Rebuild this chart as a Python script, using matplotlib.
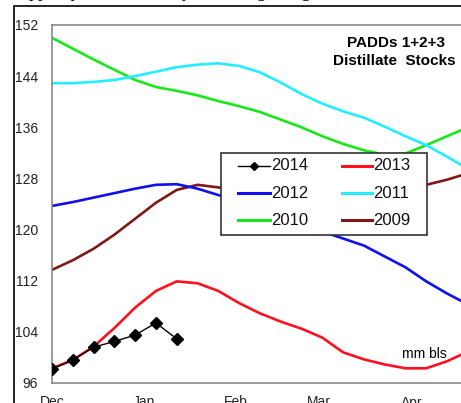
import matplotlib
matplotlib.use("Agg")
import matplotlib.pyplot as plt
from matplotlib.patches import Rectangle
from matplotlib.lines import Line2D

plt.rcParams['font.family'] = ['Liberation Sans', 'DejaVu Sans']

W, H = 461, 403

# days after Dec 1 (weekly)
days = [0, 7, 14, 21, 28, 35, 42, 49, 56, 63, 70, 77, 84, 91, 98, 105, 112, 119, 126, 133, 140]
s2013 = [98.3, 99.6, 101.7, 104.6, 107.8, 110.4, 111.9, 111.6, 110.4, 108.5, 106.9, 105.6, 104.5, 103.1, 100.8, 99.7, 98.9, 98.3, 98.3, 99.4, 100.9]
s2012 = [123.7, 124.3, 125.0, 125.7, 126.4, 127.0, 127.1, 126.4, 125.4, 124.6, 123.6, 122.5, 121.2, 119.7, 118.6, 117.5, 115.8, 114.1, 111.9, 110.0, 108.3]
s2011 = [142.9, 142.9, 143.1, 143.4, 144.0, 144.7, 145.4, 145.8, 146.0, 145.6, 144.6, 143.0, 141.2, 139.7, 138.5, 137.5, 136.1, 134.6, 133.2, 131.4, 129.5]
s2010 = [150.0, 148.3, 146.6, 145.0, 143.4, 142.3, 141.7, 141.0, 140.1, 139.3, 138.4, 137.2, 136.0, 134.6, 133.4, 132.4, 131.7, 131.9, 133.2, 134.6, 136.0]
s2009 = [113.7, 115.2, 117.0, 119.2, 121.7, 124.2, 126.2, 127.0, 126.6, 126.0, 125.6, 125.4, 125.5, 125.8, 126.2, 126.5, 126.8, 126.9, 127.0, 127.8, 128.8]
days2014 = [0, 7, 14, 21, 28, 35, 42]
s2014 = [98.2, 99.6, 101.6, 102.5, 103.5, 105.4, 102.9]

years = ["2014", "2013", "2012", "2011", "2010", "2009"]
colors = {"2014": "black", "2013": "#ff1020", "2012": "#1010ee",
          "2011": "#22eeff", "2010": "#18e818", "2009": "#801818"}

month_ticks = [0, 31, 62, 90, 121]
month_labels = ["Dec", "Jan", "Feb", "Mar", "Apr"]
y_ticks = [96, 104, 112, 120, 128, 136, 144, 152]

def fx(px):
    return px / W

def fy(py):
    return 1 - py / H

fig = plt.figure(figsize=(W / 100, H / 100), dpi=100)
fig.patch.set_facecolor('white')

# outer black frame of the embedded chart
fig.patches.append(Rectangle((fx(14), fy(460)), 2.0, fy(6) - fy(460), transform=fig.transFigure,
                             fill=False, edgecolor='black', linewidth=1.2, zorder=0))
# cut-off document text above the chart (only descenders visible)
fig.text(fx(20), fy(-3.0), "upper quarter of the 5-year average range.", family='Liberation Serif',
         fontsize=13, va='baseline', ha='left', color='black')

ax = fig.add_axes([fx(52), fy(383), (474 - 52) / W, (383 - 25) / H])
ax.set_xlim(0, (474 - 52) / 2.97)
ax.set_ylim(96, 152)

ax.plot(days, s2010, color=colors["2010"], lw=1.9, zorder=2)
ax.plot(days, s2011, color=colors["2011"], lw=1.9, zorder=2)
ax.plot(days, s2009, color=colors["2009"], lw=1.9, zorder=2)
ax.plot(days, s2012, color=colors["2012"], lw=1.9, zorder=2)
ax.plot(days, s2013, color=colors["2013"], lw=1.9, zorder=2)
ax.plot(days2014, s2014, color=colors["2014"], lw=1.0, marker='D', ms=6, zorder=3)

for sp in ax.spines.values():
    sp.set_color('#8a8a8a')
    sp.set_linewidth(1.2)
ax.spines['right'].set_visible(False)

ax.set_xticks(month_ticks)
ax.set_xticklabels(month_labels)
ax.set_yticks(y_ticks)
ax.set_yticklabels([str(v) for v in y_ticks])
ax.tick_params(axis='both', length=0, labelsize=10, colors='#222222')
ax.tick_params(axis='y', pad=10)
ax.tick_params(axis='x', pad=9)

fig.text(fx(396), fy(43), "PADDs 1+2+3", fontsize=11, fontweight='bold', ha='center', va='center')
fig.text(fx(394), fy(61), "Distillate  Stocks", fontsize=11, fontweight='bold', ha='center', va='center')
fig.text(fx(424), fy(354), "mm bls", fontsize=10, ha='center', va='center')

# legend (boxed, 3 rows x 2 columns)
box_l, box_t, box_r, box_b = 221, 153, 427, 235
fig.patches.append(Rectangle((fx(box_l), fy(box_b)), fx(box_r) - fx(box_l), fy(box_t) - fy(box_b),
                             transform=fig.transFigure, facecolor='white', edgecolor='#333333',
                             linewidth=1.2, zorder=5))
row_y = [166, 193, 220]
col_x = [(238, 270), (342, 372)]
for i, yr in enumerate(years):
    r, c = i // 2, i % 2
    x0, x1 = col_x[c]
    yy = fy(row_y[r])
    if yr == "2014":
        ln = Line2D([fx(x0), fx(x1)], [yy, yy], transform=fig.transFigure, color='black', lw=1.0,
                    zorder=6)
        mk = Line2D([fx((x0 + x1) / 2)], [yy], transform=fig.transFigure, color='black',
                    marker='D', ms=4, lw=0, zorder=6)
        fig.lines.extend([ln, mk])
    else:
        ln = Line2D([fx(x0), fx(x1)], [yy, yy], transform=fig.transFigure, color=colors[yr],
                    lw=2.2, zorder=6)
        fig.lines.append(ln)
    fig.text(fx(x1 + 1), yy, yr, fontsize=12, ha='left', va='center', zorder=7, color='#111111')

fig.savefig("out.png", dpi=100, facecolor='white')
